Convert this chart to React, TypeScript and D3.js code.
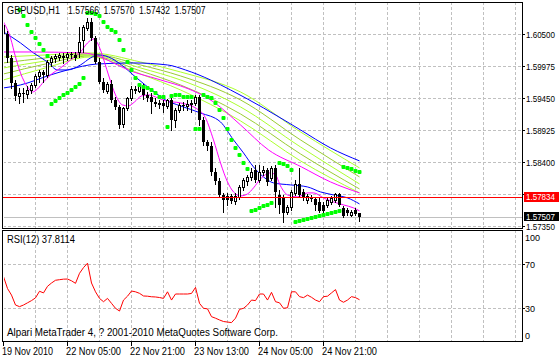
import React from 'react';
import * as d3 from 'd3';

const W = 559;
const H = 359;

// ---- OHLC (GBPUSD H1), bar 0 .. 89 ----
const OPEN = [1.60653,1.60505,1.60112,1.59702,1.59489,1.59538,1.59521,1.59587,1.59669,1.59817,
  1.59882,1.59833,1.60046,1.60112,1.60128,1.60145,1.60128,1.60177,1.60161,1.60210,
  1.60407,1.60604,1.60702,1.60440,1.60046,1.59718,1.59571,1.59685,1.59423,1.59308,
  1.59029,1.59292,1.59456,1.59603,1.59571,1.59653,1.59505,1.59472,1.59390,1.59357,
  1.59374,1.59325,1.59423,1.59095,1.59259,1.59341,1.59325,1.59357,1.59374,1.59472,
  1.59095,1.58734,1.58669,1.58242,1.58095,1.57865,1.57849,1.57849,1.57767,1.57832,
  1.57996,1.58095,1.58160,1.58275,1.58111,1.58242,1.58275,1.58144,1.58308,1.57865,
  1.57816,1.57586,1.57668,1.57898,1.58045,1.57914,1.57783,1.57832,1.57799,1.57750,
  1.57701,1.57701,1.57750,1.57783,1.57881,1.57652,1.57619,1.57537,1.57619,1.57566];
const HIGH = [1.60702,1.60555,1.60161,1.59751,1.59620,1.59620,1.59653,1.59702,1.59849,1.59915,
  1.59915,1.60079,1.60145,1.60177,1.60194,1.60194,1.60210,1.60210,1.60210,1.60620,
  1.60653,1.60768,1.60768,1.60473,1.60112,1.59784,1.59718,1.59751,1.59472,1.59341,
  1.59308,1.59472,1.59653,1.59653,1.59669,1.59685,1.59554,1.59538,1.59456,1.59423,
  1.59423,1.59439,1.59456,1.59292,1.59374,1.59390,1.59423,1.59423,1.59505,1.59505,
  1.59144,1.58767,1.58734,1.58308,1.58144,1.57898,1.57898,1.57881,1.57898,1.58029,
  1.58144,1.58193,1.58308,1.58357,1.58357,1.58341,1.58308,1.58341,1.58357,1.57947,
  1.57865,1.57701,1.57947,1.58111,1.58308,1.57963,1.57881,1.57865,1.57832,1.57816,
  1.57750,1.57816,1.57849,1.57898,1.57898,1.57685,1.57652,1.57619,1.57652,1.57570];
const LOW = [1.60473,1.60046,1.59620,1.59423,1.59374,1.59390,1.59456,1.59538,1.59636,1.59718,
  1.59718,1.59800,1.59981,1.60046,1.60079,1.60030,1.60079,1.60112,1.60079,1.60128,
  1.60210,1.60571,1.60407,1.60030,1.59702,1.59554,1.59538,1.59390,1.59275,1.58964,
  1.58980,1.59259,1.59423,1.59538,1.59554,1.59439,1.59407,1.59210,1.59325,1.59292,
  1.59226,1.59292,1.58931,1.58980,1.59226,1.59259,1.59259,1.59226,1.59341,1.59013,
  1.58685,1.58603,1.58193,1.58045,1.57832,1.57586,1.57701,1.57734,1.57717,1.57799,
  1.57947,1.58029,1.58111,1.58078,1.58078,1.58193,1.58029,1.58111,1.57668,1.57570,
  1.57422,1.57553,1.57619,1.57865,1.57832,1.57783,1.57734,1.57767,1.57619,1.57586,
  1.57586,1.57668,1.57717,1.57750,1.57685,1.57504,1.57537,1.57521,1.57537,1.57432];
const CLOSE = [1.60505,1.60112,1.59702,1.59489,1.59538,1.59521,1.59587,1.59669,1.59817,1.59882,
  1.59833,1.60046,1.60112,1.60145,1.60161,1.60112,1.60177,1.60161,1.60112,1.60374,
  1.60620,1.60702,1.60440,1.60046,1.59718,1.59587,1.59685,1.59423,1.59308,1.59013,
  1.59292,1.59456,1.59603,1.59571,1.59653,1.59505,1.59456,1.59390,1.59357,1.59374,
  1.59325,1.59423,1.59095,1.59259,1.59341,1.59325,1.59357,1.59374,1.59472,1.59095,
  1.58734,1.58669,1.58242,1.58095,1.57865,1.57783,1.57783,1.57767,1.57849,1.57996,
  1.58111,1.58160,1.58242,1.58111,1.58242,1.58275,1.58078,1.58308,1.57914,1.57701,
  1.57570,1.57668,1.57914,1.58045,1.57865,1.57816,1.57849,1.57799,1.57701,1.57603,
  1.57603,1.57783,1.57816,1.57881,1.57701,1.57521,1.57570,1.57586,1.57553,1.57507];

// ---- Parabolic SAR per bar (null = not visible) ----
const SAR: (number | null)[] = [null,null,null,null,1.60899,1.60801,1.60653,1.60538,1.60440,1.60341,
  1.60243,1.60145,1.59357,1.59407,1.59456,1.59505,1.59538,1.59587,1.59636,1.59685,
  1.59784,1.60850,1.60842,1.60833,1.60801,1.60702,1.60620,1.60571,1.60538,1.60407,
  1.60243,1.60046,1.59915,1.59784,1.59669,1.59636,1.59620,1.59587,1.59538,1.59472,
  1.59472,1.58980,1.59489,1.59505,1.59505,1.59472,1.59472,1.59472,1.58947,1.58947,
  1.59505,1.59472,1.59456,1.59374,1.59259,1.59128,1.58947,1.58767,1.58636,1.58521,
  1.58390,1.58291,1.57603,1.57619,1.57652,1.57685,1.57701,1.57734,null,1.58390,
  1.58373,1.58341,1.58275,1.57422,1.57439,1.57455,1.57471,1.57488,1.57504,1.57521,
  1.57537,1.57553,1.57570,1.57586,1.57603,1.58324,1.58308,1.58291,1.58259,1.58242];

// ---- RSI(12) per bar ----
const RSI = [58.8,48,42,33,31.5,33,35,37,39.5,45.5,44,50,53,55.5,56,56.5,56.6,55,52.7,61.8,
  67,71,53,45,39,36,39,34.5,30,27.5,37.5,41,45.7,45,43.6,41.2,41,40.5,40.3,39.8,
  39,45,37.5,43,43,43,43,43.5,49,34.5,30,29.5,22.4,21,19.4,18,17.5,17,21,29,
  30,33,37.5,37,43,43,37.5,44.5,36,35,30,30.5,45,45,40.6,39.7,42,40,37.5,36,
  40.6,41,44,47,37.5,35.5,37.5,40.6,39.7,37.8114];

// ---- Moving averages: [bar index, price] ----
const MA_MAGENTA_FAST: [number, number][] = [[0,1.60702],[1.75,1.60440],[3,1.60128],[4.25,1.59866],[6,1.59636],
  [7.25,1.59554],[8.5,1.59603],[10,1.59718],[11.75,1.59833],[14.25,1.59948],[16.75,1.60079],[19.25,1.60210],
  [21,1.60358],[22.5,1.60423],[23.75,1.60325],[24.5,1.60194],[26.25,1.59833],[28,1.59505],[29.75,1.59341],
  [31.25,1.59325],[32.75,1.59390],[34.5,1.59489],[36.25,1.59505],[38,1.59472],[40.5,1.59407],[44.25,1.59374],
  [48,1.59292],[50.5,1.59128],[52.5,1.58767],[54.25,1.58390],[56,1.58078],[57.5,1.57914],[59.25,1.57849],
  [61,1.57881],[62.5,1.57980],[64.25,1.58127],[66.75,1.58226],[68,1.58193],[69.25,1.58013],[71,1.57865],
  [73.5,1.57832],[76,1.57898],[77.5,1.57898],[80,1.57816],[82.5,1.57750],[85,1.57701],[87.5,1.57652],[89,1.57603]];
const MA_MAGENTA_SLOW: [number, number][] = [[0,1.60210],[7.5,1.60210],[20,1.60194],[24.25,1.60128],[28.5,1.59997],
  [32.5,1.59882],[36.75,1.59800],[41,1.59718],[44.25,1.59653],[52.5,1.59390],[59.25,1.59013],[66.25,1.58603],
  [74.5,1.58324],[81.75,1.58078],[89,1.57898]];
const MA_BLUE_FAST: [number, number][] = [[0,1.60538],[4.25,1.60358],[7.5,1.60194],[11,1.60046],[13.5,1.59915],
  [16,1.59915],[19.25,1.59997],[21.75,1.60112],[23.5,1.60161],[26.25,1.60128],[29.5,1.59997],[33,1.59800],
  [38,1.59538],[40.5,1.59423],[44.25,1.59325],[49.25,1.59210],[54.25,1.59062],[57.5,1.58767],[60,1.58554],
  [62.5,1.58324],[65,1.58160],[67.5,1.58062],[71.75,1.58029],[76,1.57996],[79.25,1.57914],[82.5,1.57865],
  [86,1.57816],[89,1.57717]];
const MA_BLUE_SLOW: [number, number][] = [[0,1.59620],[4.25,1.59669],[11.75,1.59833],[16,1.59915],[23.5,1.60013],
  [32.5,1.60030],[41,1.59997],[45.5,1.59915],[51.75,1.59751],[56.75,1.59587],[65,1.59292],[74.25,1.58931],
  [81.75,1.58636],[89,1.58423]];
const LIME_INDEX = [0, 10.5, 21.75, 34.25, 44.25, 59.25, 74.25, 89];
const LIME_1 = [1.60128,1.60161,1.60194,1.60046,1.59882,1.59554,1.58898,1.58308];
const LIME_2 = [1.60030,1.60112,1.60177,1.59997,1.59817,1.59423,1.58767,1.58160];
const LIME_3 = [1.59948,1.60063,1.60161,1.59948,1.59751,1.59308,1.58652,1.58045];
const LIME_4 = [1.59849,1.60013,1.60145,1.59899,1.59669,1.59193,1.58537,1.57963];
const LIME_5 = [1.59751,1.59948,1.60128,1.59849,1.59587,1.59079,1.58423,1.57898];

// ---- axes / labels ----
const TITLE = ['GBPUSD,H1', '1.57566', '1.57570', '1.57432', '1.57507'];
const TIME_INDEX = [0, 16, 32, 48, 64, 80];
const TIME_LABELS = ['19 Nov 2010', '22 Nov 05:00', '22 Nov 21:00', '23 Nov 13:00', '24 Nov 05:00', '24 Nov 21:00'];
const PRICE_TICKS = [1.605, 1.59975, 1.5945, 1.58925, 1.584, 1.57875, 1.5735];
const PRICE_TICK_LABELS = ['1.60500', '1.59975', '1.59450', '1.58925', '1.58400', '', '1.57350'];
const RSI_LEVELS = [100, 70, 30, 0];
const RSI_GRID = [70, 30];
const RED_LEVEL = 1.57834;
const BID_LEVEL = 1.57507;
const RSI_TITLE = 'RSI(12) 37.8114';
const COPYRIGHT = 'Alpari MetaTrader 4, ? 2001-2010 MetaQuotes Software Corp.';

const FONT = "'Liberation Sans', Arial, sans-serif";
const FS = 10;
const FS_AXIS = 9;

export default function App() {
  const L = 3, R = 522, MT = 2, MB = 228, RT = 230, RB = 341;
  const x = d3.scaleLinear().domain([0, 89]).range([3, 359]);
  const y = d3.scaleLinear().domain([1.5735, 1.605]).range([226.3, 34.3]);
  const yr = d3.scaleLinear().domain([0, 100]).range([341.3, 231.3]);
  const px = (i: number) => Math.round(x(i)) + 0.5;
  const py = (p: number) => Math.round(y(p)) + 0.5;

  const lineFromPairs = d3.line<[number, number]>()
    .x(d => x(d[0]) + 0.5).y(d => y(d[1])).curve(d3.curveMonotoneX);
  const limeSets = [LIME_1, LIME_2, LIME_3, LIME_4, LIME_5];
  const limeColors = ['#ADFF2F', '#9ACD32', '#ADFF2F', '#9ACD32', '#ADFF2F'];

  const rsiLine = d3.line<number>().x((_, i) => x(i) + 0.5).y(d => yr(d));

  const vGrid = d3.range(8, 129, 8);
  const gridStyle = { stroke: '#C0C0C0', strokeWidth: 1, strokeDasharray: '3,2' };

  return (
    <svg width={W} height={H} style={{ position: 'absolute', left: 0, top: 0, display: 'block', background: '#fff' }}
      fontFamily={FONT}>
      <defs>
        <clipPath id="mainClip"><rect x={L + 1} y={MT + 1} width={R - L - 1} height={MB - MT - 1} /></clipPath>
        <clipPath id="rsiClip"><rect x={L + 1} y={RT + 1} width={R - L - 1} height={RB - RT - 1} /></clipPath>
      </defs>
      <rect x={0} y={0} width={W} height={H} fill="#fff" />

      {/* main grid */}
      <g clipPath="url(#mainClip)">
        {vGrid.map(i => (
          <line key={'vg' + i} x1={px(i)} x2={px(i)} y1={MT} y2={MB} {...gridStyle} />
        ))}
        {PRICE_TICKS.map(p => (
          <line key={'hg' + p} x1={L} x2={R} y1={py(p)} y2={py(p)} {...gridStyle} />
        ))}
      </g>

      {/* RSI panel */}
      <g clipPath="url(#rsiClip)">
        {vGrid.map(i => (
          <line key={'rvg' + i} x1={px(i)} x2={px(i)} y1={RT} y2={RB} {...gridStyle} />
        ))}
        {RSI_GRID.map(v => (
          <line key={'rg' + v} x1={L} x2={R} y1={Math.round(yr(v)) + 0.5} y2={Math.round(yr(v)) + 0.5} {...gridStyle} />
        ))}
        <path d={rsiLine(RSI) || ''} fill="none" stroke="#FF0000" strokeWidth={1} />
      </g>

      <g clipPath="url(#mainClip)">
        {/* bid line */}
        <line x1={L} x2={R} y1={py(BID_LEVEL)} y2={py(BID_LEVEL)} stroke="#C0C0C0" />
        {/* moving averages */}
        {limeSets.map((set, k) => (
          <path key={'lime' + k} d={lineFromPairs(LIME_INDEX.map((i, j) => [i, set[j]] as [number, number])) || ''}
            fill="none" stroke={limeColors[k]} strokeWidth={1} />
        ))}
        <path d={lineFromPairs(MA_BLUE_SLOW) || ''} fill="none" stroke="#0000FF" strokeWidth={1} />
        <path d={lineFromPairs(MA_BLUE_FAST) || ''} fill="none" stroke="#0000FF" strokeWidth={1} />
        <path d={lineFromPairs(MA_MAGENTA_SLOW) || ''} fill="none" stroke="#FF00FF" strokeWidth={1} />
        <path d={lineFromPairs(MA_MAGENTA_FAST) || ''} fill="none" stroke="#FF00FF" strokeWidth={1} />

        {/* candles */}
        {OPEN.map((o, i) => {
          const c = CLOSE[i];
          const xc = Math.round(x(i));
          const yh = Math.round(y(HIGH[i]));
          const yl = Math.round(y(LOW[i]));
          const yTop = Math.round(y(Math.max(o, c)));
          const yBot = Math.round(y(Math.min(o, c)));
          const bull = c >= o;
          return (
            <g key={'c' + i}>
              <line x1={xc + 0.5} x2={xc + 0.5} y1={yh} y2={yl + 1} stroke="#000" />
              {bull ? (
                <rect x={xc - 0.5} y={yTop + 0.5} width={2} height={Math.max(yBot - yTop, 1)} fill="#fff" stroke="#000" />
              ) : (
                <rect x={xc - 1} y={yTop} width={3} height={Math.max(yBot - yTop, 1)} fill="#000" />
              )}
            </g>
          );
        })}

        {/* parabolic SAR */}
        {SAR.map((s, i) => s == null ? null : (
          <rect key={'s' + i} x={Math.round(x(i)) - 1.5} y={Math.round(y(s)) - 2} width={4} height={4} rx={1}
            fill="#00FF00" />
        ))}
      </g>

      {/* red horizontal line */}
      <rect x={L} y={Math.round(y(RED_LEVEL))} width={R - L} height={1} fill="#FF0000" />

      {/* frames */}
      <rect x={L - 0.5} y={MT + 0.5} width={R - L + 1} height={MB - MT} fill="none" stroke="#000" />
      <rect x={L - 0.5} y={RT + 0.5} width={R - L + 1} height={RB - RT} fill="none" stroke="#000" />

      {/* title */}
      {TITLE.map((t, k) => (
        <text key={'t' + k} x={k === 0 ? 7 : 68 + (k - 1) * 35.5} y={14} fontSize={FS}
          textLength={k === 0 ? 53 : 31} lengthAdjust="spacingAndGlyphs" fill="#000">{t}</text>
      ))}

      {/* right price axis */}
      {PRICE_TICKS.map((p, k) => (
        <g key={'pt' + k}>
          <line x1={R} x2={R + 3} y1={py(p)} y2={py(p)} stroke="#000" />
          {PRICE_TICK_LABELS[k] && (
            <text x={526} y={Math.round(y(p)) + (k === PRICE_TICKS.length - 1 ? 4 : 3.5)} fontSize={FS_AXIS}
              textLength={29} lengthAdjust="spacingAndGlyphs">
              {PRICE_TICK_LABELS[k]}
            </text>
          )}
        </g>
      ))}
      <rect x={524} y={Math.round(y(RED_LEVEL)) - 5} width={35} height={10} fill="#FF0000" />
      <text x={526} y={Math.round(y(RED_LEVEL)) + 3.3} fontSize={FS_AXIS} fill="#fff" textLength={29}
        lengthAdjust="spacingAndGlyphs">{RED_LEVEL.toFixed(5)}</text>
      <rect x={524} y={Math.round(y(BID_LEVEL)) - 5} width={35} height={9} fill="#000" />
      <text x={526} y={Math.round(y(BID_LEVEL)) + 2.8} fontSize={FS_AXIS} fill="#fff" textLength={29}
        lengthAdjust="spacingAndGlyphs">{BID_LEVEL.toFixed(5)}</text>

      {/* RSI axis */}
      {RSI_LEVELS.map(v => (
        <g key={'rl' + v}>
          {v !== 100 && v !== 0 && (
            <line x1={R} x2={R + 3} y1={Math.round(yr(v)) + 0.5} y2={Math.round(yr(v)) + 0.5} stroke="#000" />
          )}
          <text x={525} y={v === 100 ? 241 : v === 0 ? 338.5 : Math.round(yr(v)) + 3.5} fontSize={FS_AXIS}>{v}</text>
        </g>
      ))}
      <text x={7} y={243} fontSize={FS} textLength={68} lengthAdjust="spacingAndGlyphs">{RSI_TITLE}</text>
      <text x={7} y={336} fontSize={FS} textLength={271} lengthAdjust="spacingAndGlyphs">{COPYRIGHT}</text>

      {/* time axis */}
      {TIME_INDEX.map((i, k) => (
        <g key={'ta' + k}>
          <line x1={px(i)} x2={px(i)} y1={RB + 1} y2={RB + 5} stroke="#000" />
          <text x={Math.round(x(i)) - 1} y={355} fontSize={FS} textLength={k === 0 ? 51 : 55}
            lengthAdjust="spacingAndGlyphs">{TIME_LABELS[k]}</text>
        </g>
      ))}
    </svg>
  );
}
